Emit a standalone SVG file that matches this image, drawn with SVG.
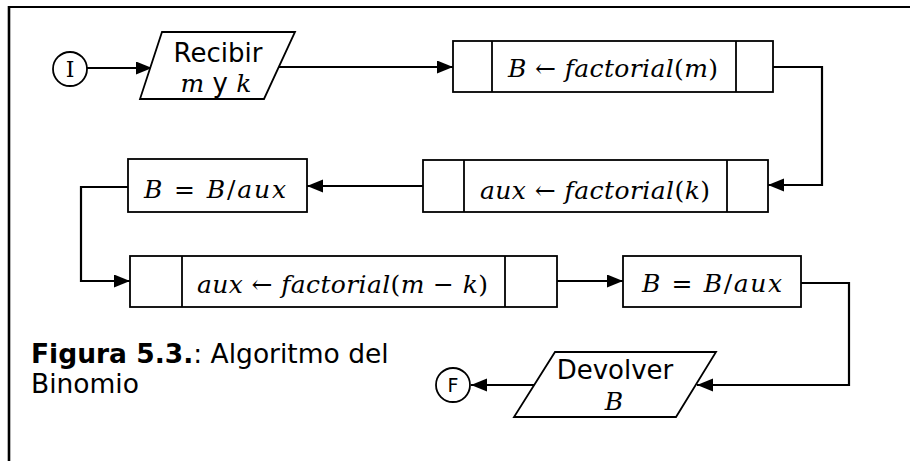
<svg xmlns="http://www.w3.org/2000/svg" width="910" height="461" viewBox="0 0 910 461">
<style>
.box{fill:#fff;stroke:#000;stroke-width:1.8}
.ln{fill:none;stroke:#000;stroke-width:2.2}
.lbl{font-family:"DejaVu Sans","Verdana",sans-serif;font-size:26px;fill:#000}
.math{font-family:"DejaVu Serif","Liberation Serif",serif;font-style:italic;font-size:25px;fill:#000}
.op{font-style:normal}
.cap{font-family:"DejaVu Sans","Verdana",sans-serif;font-size:26.5px;fill:#000}
</style>
<defs>
<marker id="ah" markerUnits="userSpaceOnUse" markerWidth="17" markerHeight="14" refX="16" refY="6.5" orient="auto">
<path d="M0,0 L16,6.5 L0,13 z" fill="#000"/>
</marker>
</defs>
<g id="frame">
<line x1="9" y1="7" x2="910" y2="7" stroke="#000" stroke-width="2.2"/>
<line x1="9" y1="6" x2="9" y2="461" stroke="#000" stroke-width="2.6"/>
</g>
<g id="connectors">
<line class="ln" x1="87" y1="68" x2="152" y2="68" marker-end="url(#ah)"/>
<line class="ln" x1="279" y1="67" x2="453" y2="67" marker-end="url(#ah)"/>
<polyline class="ln" points="773,67 822,67 822,185 768,185" marker-end="url(#ah)"/>
<line class="ln" x1="423" y1="186" x2="307" y2="186" marker-end="url(#ah)"/>
<polyline class="ln" points="128,187 81,187 81,281 130,281" marker-end="url(#ah)"/>
<line class="ln" x1="557" y1="281" x2="623" y2="281" marker-end="url(#ah)"/>
<polyline class="ln" points="801,283 849,283 849,385 697,385" marker-end="url(#ah)"/>
<line class="ln" x1="534" y1="385" x2="471" y2="385" marker-end="url(#ah)"/>
</g>
<g id="start">
<circle cx="70" cy="69" r="17" fill="#fff" stroke="#000" stroke-width="1.8"/>
<text x="70" y="77" text-anchor="middle" font-family="DejaVu Serif,serif" font-size="22">I</text>
</g>
<g id="recibir">
<polygon class="box" points="162,32 295,32 264,99 140,99"/>
<text class="lbl" x="218" y="62" text-anchor="middle">Recibir</text>
<text x="216" y="92" text-anchor="middle"><tspan class="math" font-size="26">m</tspan><tspan font-family="DejaVu Sans,sans-serif" font-size="26"> y </tspan><tspan class="math" font-size="26">k</tspan></text>
</g>
<g id="fact-m">
<rect class="box" x="453" y="41" width="320" height="51"/>
<line class="box" x1="492" y1="41" x2="492" y2="92"/>
<line class="box" x1="736" y1="41" x2="736" y2="92"/>
<text class="math" x="508" y="77" textLength="210" lengthAdjust="spacing">B <tspan class="op">←</tspan> factorial<tspan class="op">(</tspan>m<tspan class="op">)</tspan></text>
</g>
<g id="fact-k">
<rect class="box" x="423" y="160" width="345" height="52"/>
<line class="box" x1="464" y1="160" x2="464" y2="212"/>
<line class="box" x1="727" y1="160" x2="727" y2="212"/>
<text class="math" x="480" y="199" textLength="230" lengthAdjust="spacing">aux <tspan class="op">←</tspan> factorial<tspan class="op">(</tspan>k<tspan class="op">)</tspan></text>
</g>
<g id="div1">
<rect class="box" x="128" y="159" width="179" height="53"/>
<text class="math" x="144" y="198" textLength="142" lengthAdjust="spacing">B <tspan class="op">=</tspan>  B<tspan class="op">/</tspan>aux</text>
</g>
<g id="fact-mk">
<rect class="box" x="130" y="256" width="427" height="51"/>
<line class="box" x1="182" y1="256" x2="182" y2="307"/>
<line class="box" x1="505" y1="256" x2="505" y2="307"/>
<text class="math" x="197" y="293" textLength="291" lengthAdjust="spacing">aux  <tspan class="op">←</tspan> factorial<tspan class="op">(</tspan>m <tspan class="op">−</tspan> k<tspan class="op">)</tspan></text>
</g>
<g id="div2">
<rect class="box" x="623" y="256" width="178" height="51"/>
<text class="math" x="642" y="292" textLength="140" lengthAdjust="spacing">B <tspan class="op">=</tspan>  B<tspan class="op">/</tspan>aux</text>
</g>
<g id="devolver">
<polygon class="box" points="555,352 716,352 676,417 514,417"/>
<text class="lbl" x="615" y="379" text-anchor="middle">Devolver</text>
<text class="math" x="614" y="410" text-anchor="middle" font-size="26">B</text>
</g>
<g id="end">
<circle cx="453" cy="385" r="17" fill="#fff" stroke="#000" stroke-width="1.8"/>
<text x="453" y="392" text-anchor="middle" font-family="DejaVu Sans,sans-serif" font-size="19">F</text>
</g>
<g id="caption">
<text class="cap" x="31" y="363"><tspan font-weight="bold">Figura 5.3.</tspan>: Algoritmo del</text>
<text class="cap" x="31" y="393">Binomio</text>
</g>
</svg>
